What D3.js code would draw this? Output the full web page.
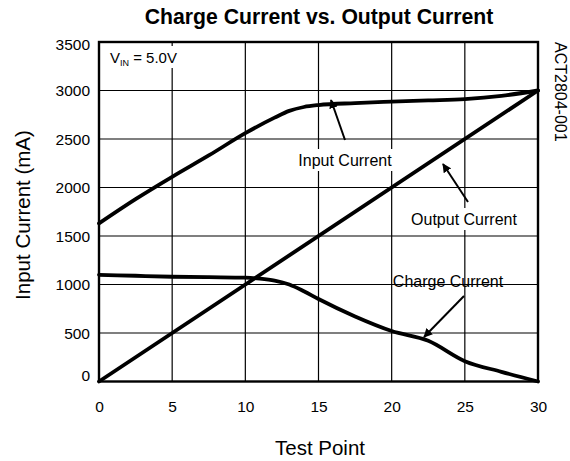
<!DOCTYPE html>
<html><head><meta charset="utf-8">
<script src="https://cdn.jsdelivr.net/npm/d3@7"></script>
<style>body{margin:0;background:#fff;} svg{display:block;font-family:Arial,"Liberation Sans",sans-serif;}</style>
</head><body>
<svg id="c" width="570" height="461"></svg>
<script>
const title = "Charge Current vs. Output Current";
const xLabel = "Test Point";
const yLabel = "Input Current (mA)";
const xTicks = [0,5,10,15,20,25,30];
const yTicks = [0,500,1000,1500,2000,2500,3000,3500];
const inputX = [0,2.5,5,7.5,10,12,13,14,15,17.5,20,22.5,25,27.5,30];
const inputY = [1630,1880,2110,2330,2560,2720,2790,2830,2850,2870,2885,2898,2912,2945,3000];
const outputX = [0,30];
const outputY = [0,3000];
const chargeX = [0,2.5,5,7.5,10,11,12,13,14,15,17.5,20,22.5,25,27.5,30];
const chargeY = [1100,1090,1080,1075,1070,1060,1040,1000,930,850,670,520,420,210,100,0];

const FONT = "Arial, 'Liberation Sans', sans-serif";
const svg = d3.select("#c");
const L=99, R=538, T=42, B=381.5;
const x = d3.scaleLinear().domain([0,30]).range([L,R]);
const y = d3.scaleLinear().domain([0,3500]).range([B,T]);

// grid
const g = svg.append("g");
g.selectAll(".vx").data(xTicks).enter().append("line")
  .attr("x1",d=>x(d)).attr("x2",d=>x(d)).attr("y1",T).attr("y2",B)
  .attr("stroke","#000").attr("stroke-width",1.2);
g.selectAll(".hy").data(yTicks).enter().append("line")
  .attr("x1",L).attr("x2",R).attr("y1",d=>y(d)).attr("y2",d=>y(d))
  .attr("stroke","#000").attr("stroke-width",1.2);

// white boxes behind some labels
svg.append("rect").attr("x",105).attr("y",46).attr("width",78).attr("height",22).attr("fill","#fff");
svg.append("rect").attr("x",296).attr("y",149).attr("width",99).attr("height",22).attr("fill","#fff");
svg.append("rect").attr("x",408).attr("y",208).attr("width",112).attr("height",22).attr("fill","#fff");

// border
svg.append("rect").attr("x",L).attr("y",T).attr("width",R-L).attr("height",B-T)
  .attr("fill","none").attr("stroke","#000").attr("stroke-width",2.4);

// axes tick labels
const xa = d3.axisBottom(x).tickValues(xTicks).tickSize(0).tickPadding(0).tickFormat(d3.format("d"));
const xg = svg.append("g").attr("transform",`translate(0,${B})`).call(xa);
xg.select(".domain").remove();
xg.selectAll("text").attr("font-size",15.5).attr("font-family",FONT)
  .attr("fill","#000").attr("dy",null).attr("y",30);
const ya = d3.axisLeft(y).tickValues(yTicks).tickSize(0).tickPadding(0).tickFormat(d3.format("d"));
const yg = svg.append("g").attr("transform",`translate(${L-9},0)`).call(ya);
yg.select(".domain").remove();
yg.selectAll("text").attr("font-size",15.5).attr("font-family",FONT)
  .attr("fill","#000").attr("dy",d=> d===0 ? "-0.05em" : d===3500 ? "0.5em" : "0.35em");

// lines
const line = d3.line().x(d=>x(d[0])).y(d=>y(d[1])).curve(d3.curveMonotoneX);
function draw(xs,ys){
  svg.append("path").datum(xs.map((v,i)=>[v,ys[i]])).attr("d",line)
    .attr("fill","none").attr("stroke","#000").attr("stroke-width",3.8).attr("stroke-linecap","round");
}
draw(inputX,inputY);
draw(outputX,outputY);
draw(chargeX,chargeY);

// arrows
const defs = svg.append("defs");
defs.append("marker").attr("id","ah").attr("viewBox","0 0 10 10").attr("refX",9).attr("refY",5)
  .attr("markerWidth",4.5).attr("markerHeight",4.5).attr("orient","auto")
  .append("path").attr("d","M0,0L10,5L0,10z").attr("fill","#000");
function arrow(x1,y1,x2,y2){
  svg.append("line").attr("x1",x1).attr("y1",y1).attr("x2",x2).attr("y2",y2)
    .attr("stroke","#000").attr("stroke-width",2).attr("marker-end","url(#ah)");
}
arrow(345,140,331,100);
arrow(468,202,443,164);
arrow(464,296,424,337);

// annotations
function label(txt, cx, by){
  svg.append("text").attr("x",cx).attr("y",by).attr("font-size",16).attr("text-anchor","middle").text(txt);
}
label("Input Current",345,166);
label("Output Current",464,225);
label("Charge Current",448,287);
const vt = svg.append("text").attr("x",110).attr("y",63).attr("font-size",15);
vt.append("tspan").text("V");
vt.append("tspan").attr("font-size",9).attr("dy",3).text("IN");
vt.append("tspan").attr("dy",-3).text(" = 5.0V");

svg.append("text").attr("transform","translate(555,42) rotate(90)").attr("font-size",16)
  .text("ACT2804-001");

// titles
svg.append("text").attr("x",319).attr("y",24).attr("text-anchor","middle")
  .attr("font-size",21.2).attr("font-weight","bold").text(title);
svg.append("text").attr("x",320).attr("y",455).attr("text-anchor","middle")
  .attr("font-size",20.5).text(xLabel);
svg.append("text").attr("transform","translate(30,215) rotate(-90)").attr("text-anchor","middle")
  .attr("font-size",20.5).text(yLabel);
</script>
</body></html>
